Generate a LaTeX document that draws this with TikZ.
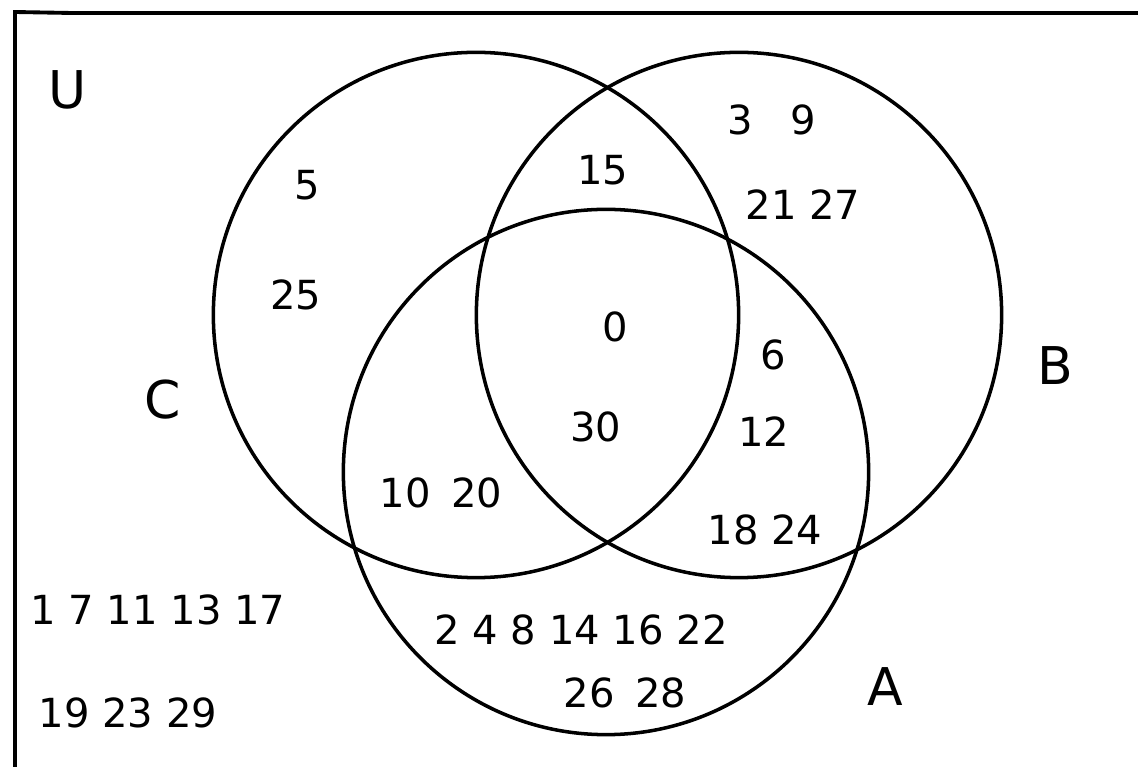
\documentclass[tikz,border=0pt]{standalone}
\usepackage{fontspec}
\setmainfont{DejaVu Sans}
\usepackage{tikz}
\usetikzlibrary{positioning}

\begin{document}
\begin{tikzpicture}[
  x=0.01cm, y=-0.01cm,
  setcircle/.style={draw, circle, line width=1pt, minimum size=5.25cm, inner sep=0pt},
  elem/.style={font=\fontsize{11.4}{14}\selectfont, inner sep=0pt},
  setname/.style={font=\fontsize{14.8}{17}\selectfont, inner sep=0pt},
]
  \useasboundingbox (0,0) rectangle (1138,767);

  % universe frame
  \coordinate (ubl) at (15,767);
  \coordinate (utl) at (15,12);
  \coordinate (utm) at (72,13);
  \coordinate (utr) at (1138,13);
  \draw[line width=1.1pt] (ubl) -- (utl) -- (utm) -- (utr);

  % sets
  \node[setcircle] (setC) at (476,315) {};
  \node[setcircle] (setB) at (739,315) {};
  \node[setcircle] (setA) at (606,472) {};

  % set names
  \node[setname] (nameU) at (68,90) {U};
  \node[setname] (nameC) at (163,400) {C};
  \node[setname] (nameB) at (1055,366) {B};
  \node[setname] (nameA) at (885,687) {A};

  % C only
  \node[elem] (e5) at (307,185) {5};
  \node[elem] (e25) at (296,295) {25};
  % B and C
  \node[elem] (e15) at (603,170) {15};
  % B only
  \node[elem] (e3) at (740,120) {3};
  \node[elem] (e9) at (803,120) {9};
  \node[elem] (e21) at (803,205) {21 27};
  % A, B and C
  \node[elem] (e0) at (615,327) {0};
  \node[elem] (e30) at (596,427) {30};
  % A and B
  \node[elem] (e6) at (773,355) {6};
  \node[elem] (e12) at (764,432) {12};
  \node[elem] (e18) at (765,530) {18 24};
  % A and C
  \node[elem] (e10) at (441,493) {10\hspace{0.5em}20};
  % A only
  \node[elem] (e2) at (581,630) {2 4 8 14 16 22};
  \node[elem] (e26) at (625,693) {26\hspace{0.5em}28};
  % outside
  \node[elem] (e1) at (158,610) {1 7 11 13 17};
  \node[elem] (e19) at (128,713) {19 23 29};
\end{tikzpicture}
\end{document}
